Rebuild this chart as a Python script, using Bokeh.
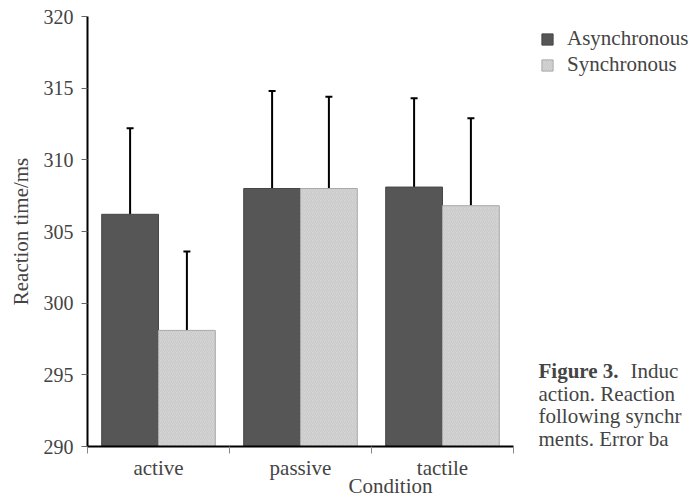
from bokeh.plotting import figure
from bokeh.models import (ColumnDataSource, Range1d, FixedTicker, Whisker, TeeHead,
                          Legend, LegendItem, Label)
from bokeh.embed import file_html
from bokeh.resources import INLINE

# ---- data ----
conditions = ["active", "passive", "tactile"]
async_rt = [306.2, 308.0, 308.1]
sync_rt = [298.1, 308.0, 306.8]
async_err = [6.0, 6.8, 6.2]
sync_err = [5.5, 6.4, 6.1]
y_ticks = [290, 295, 300, 305, 310, 315, 320]
series_names = ["Asynchronous", "Synchronous"]
caption_bold = "Figure 3."
caption_lines = ["Induc", "action.  Reaction", "following synchr", "ments.  Error ba"]

FONT = "Liberation Serif"

# ---- layout constants (pixels) ----
W, H = 693, 500
LEFT, TOP, BOTTOM = 87, 16, 53
AXIS_LEN = 426            # drawn length of the category axis
n = len(conditions)
x_end = n * (W - LEFT) / AXIS_LEN   # frame reaches the right edge; axis is bounded to [0, n]

idx = list(range(n))
src_a = ColumnDataSource(dict(
    x=[i + 0.3 for i in idx], top=async_rt,
    upper=[v + e for v, e in zip(async_rt, async_err)]))
src_s = ColumnDataSource(dict(
    x=[i + 0.7 for i in idx], top=sync_rt,
    upper=[v + e for v, e in zip(sync_rt, sync_err)]))

p = figure(width=W, height=H, output_backend="svg", toolbar_location=None,
           x_range=Range1d(0, x_end), y_range=Range1d(y_ticks[0], y_ticks[-1]),
           min_border_left=LEFT, min_border_right=0, min_border_top=TOP,
           min_border_bottom=BOTTOM)
p.outline_line_color = None
p.grid.visible = False
p.background_fill_color = "white"
p.border_fill_color = "white"

r_a = p.vbar(x="x", top="top", bottom=y_ticks[0], width=0.4, source=src_a,
             fill_color="#565656", line_color="#464646", line_width=1)
r_s = p.vbar(x="x", top="top", bottom=y_ticks[0], width=0.4, source=src_s,
             fill_color="#d4d4d4", line_color="#a9a9a9", line_width=1,
             hatch_pattern="/", hatch_color="#c2c2c2", hatch_scale=4, hatch_weight=0.6)

for src in (src_a, src_s):
    w = Whisker(base="x", upper="upper", lower="top", source=src,
                line_color="black", line_width=2,
                upper_head=TeeHead(size=7, line_color="black", line_width=2),
                lower_head=None)
    p.add_layout(w)

# y axis
ya = p.yaxis[0]
ya.ticker = FixedTicker(ticks=y_ticks, minor_ticks=[])
ya.axis_label = "Reaction time/ms"
ya.axis_label_text_font = FONT
ya.axis_label_text_font_style = "normal"
ya.axis_label_text_font_size = "21px"
ya.axis_label_standoff = 8
ya.major_label_text_font = FONT
ya.major_label_text_font_size = "20px"
ya.major_label_standoff = 8
ya.axis_line_width = 2
ya.axis_line_color = "black"
ya.major_tick_in = 0
ya.major_tick_out = 6
ya.major_tick_line_color = "#666666"
ya.minor_tick_line_color = None

# x axis (bounded to the categories)
xa = p.xaxis[0]
xa.bounds = (0, n)
xa.ticker = FixedTicker(ticks=[i + 0.5 for i in idx], minor_ticks=list(range(n + 1)))
xa.major_label_overrides = {i + 0.5: c for i, c in zip(idx, conditions)}
xa.axis_label = "Condition"
xa.axis_label_text_font = FONT
xa.axis_label_text_font_style = "normal"
xa.axis_label_text_font_size = "21px"
xa.axis_label_standoff = -9
xa.major_label_text_font = FONT
xa.major_label_text_font_size = "21px"
xa.major_label_standoff = 2
xa.axis_line_width = 2
xa.axis_line_color = "black"
xa.major_tick_line_color = None
xa.major_tick_in = 0
xa.major_tick_out = 0
xa.minor_tick_in = 0
xa.minor_tick_out = 7
xa.minor_tick_line_color = "#888888"

# legend
legend = Legend(items=[LegendItem(label=series_names[0], renderers=[r_a]),
                       LegendItem(label=series_names[1], renderers=[r_s])],
                location=(453, 369), orientation="vertical",
                glyph_width=14, glyph_height=14, label_height=24, spacing=1,
                padding=0, margin=0, label_standoff=13,
                label_text_font=FONT, label_text_font_size="21px",
                border_line_color=None, background_fill_alpha=0)
p.add_layout(legend)

# caption text to the right of the chart
def ydat(py):
    return y_ticks[-1] - (py - TOP) / (H - BOTTOM - TOP) * (y_ticks[-1] - y_ticks[0])

def xdat(px):
    return (px - LEFT) / AXIS_LEN * n

line_y = [371, 394, 416, 439]
cap_x = 538
p.add_layout(Label(x=xdat(cap_x), y=ydat(line_y[0]), text=caption_bold, text_font=FONT,
                   text_font_style="bold", text_font_size="21px", text_baseline="middle"))
p.add_layout(Label(x=xdat(630), y=ydat(line_y[0]), text=caption_lines[0], text_font=FONT,
                   text_font_size="21px", text_baseline="middle"))
for t, yy in zip(caption_lines[1:], line_y[1:]):
    p.add_layout(Label(x=xdat(cap_x), y=ydat(yy), text=t, text_font=FONT,
                       text_font_size="21px", text_baseline="middle"))

open("out.html", "w").write(file_html(p, INLINE))
